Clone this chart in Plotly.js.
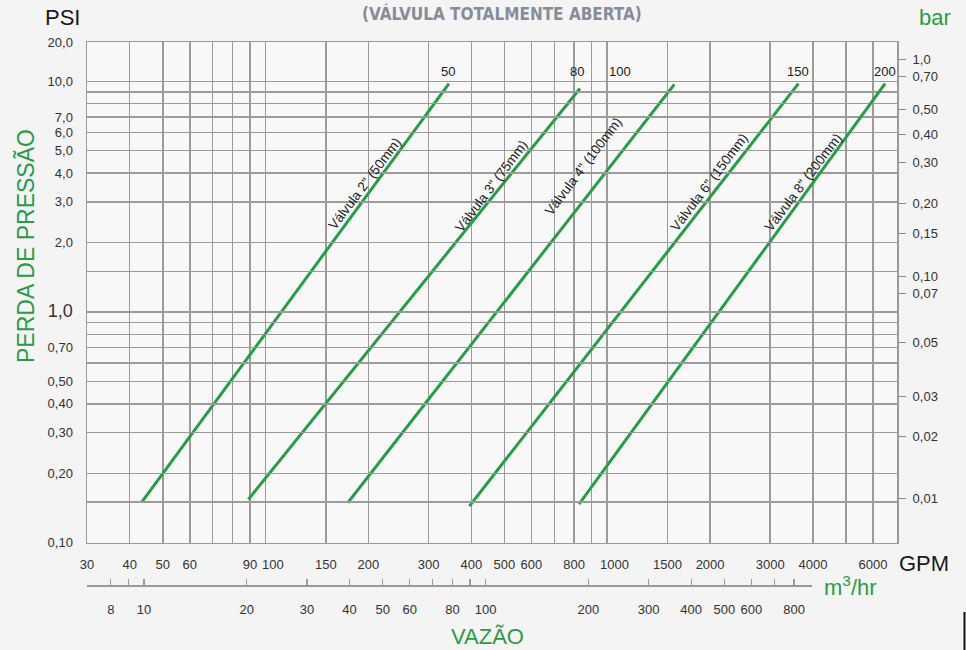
<!DOCTYPE html>
<html>
<head>
<meta charset="utf-8">
<script src="https://cdn.plot.ly/plotly-3.0.1.min.js"></script>
<style>html,body{margin:0;padding:0;background:#f4f4f4;}#chart{width:966px;height:650px;}</style>
</head>
<body>
<div id="chart"></div>
<script>
// ---- data ----
const valves = ['Válvula 2" (50mm)', 'Válvula 3" (75mm)', 'Válvula 4" (100mm)', 'Válvula 6" (150mm)', 'Válvula 8" (200mm)'];
const flowStartGPM = [43.4, 89, 174, 395, 827];
const flowEndGPM = [344, 832, 1572, 3627, 6505];
const lossStartPSI = [0.150, 0.154, 0.149, 0.144, 0.147];
const lossEndPSI = [9.77, 9.30, 9.70, 9.77, 9.77];
const sizeLabels = ['50', '80', '100', '150', '200'];
const sizeLabelGPM = [343, 813, 1090, 3615, 6505];

const gpmTicks = [30,40,50,60,70,80,90,100,150,200,300,400,500,600,700,800,900,1000,1500,2000,3000,4000,5000,6000];
const gpmLabels = ['30','40','50','60','','','90','\u00a0\u00a0\u00a0\u00a0100','150','200','300','400','500','600','','800','','\u00a0\u00a0\u00a0\u00a01000','1500','2000','3000','4000','','6000'];
const psiTicks = [14.8,10,9,8,7,6,5,4,3,2,1.5,1,0.9,0.8,0.7,0.6,0.5,0.4,0.3,0.2,0.15,0.1];
const psiLabels = ['20,0','10,0','','','7,0','6,0','5,0','4,0','3,0','2,0','','<span style="font-size:18px">1,0</span>','','','0,70','','0,50','0,40','0,30','0,20','','0,10'];
const barLabels = ['1,0','0,70','0,50','0,40','0,30','0,20','0,15','0,10','0,07','0,05','0,03','0,02','0,01'];
const barLabelAtPSI = [12.46,10.51,7.54,5.876,4.445,2.952,2.188,1.43,1.203,0.735,0.4287,0.2877,0.1557];
const m3Ticks = [8,9,10,20,30,40,50,60,70,80,90,100,200,300,400,500,600,700,800,900];
const m3Labels = ['8','','10','20','30','40','50','60','','80','','100','200','300','400','500','600','','800',''];
const GPM_PER_M3H = 4.4029;

// ---- layout geometry ----
const W = 966, H = 650, ML = 87, MR = 69, MT = 42, MB = 65;
const PW = W - ML - MR, PH = H - MT - MB;
const px = v => (v - ML) / PW;
const py = v => (H - MB - v) / PH;
const plotBottom = 542.7;
const yDom0 = (H - MB - plotBottom) / PH;

const gridC = '#9b9b9b';
const green = '#2a9b47';
const font = 'Liberation Sans, Arial, Helvetica, sans-serif';

const xRange = [Math.log10(30), Math.log10(7050)];
const yRange = [-1, Math.log10(14.8)];
const pxPerDec = PW / (xRange[1] - xRange[0]);
const m3Dom1 = px(812);
const m3Start = Math.log10(30 / GPM_PER_M3H);
const m3End = m3Start + (m3Dom1 * PW) / pxPerDec;

const traces = valves.map((name, i) => ({
  x: [flowStartGPM[i], flowEndGPM[i]],
  y: [lossStartPSI[i], lossEndPSI[i]],
  mode: 'lines', name: name,
  line: {color: green, width: 3},
  hoverinfo: 'skip', showlegend: false
}));
traces.push({x: [100], y: [1], yaxis: 'y2', mode: 'markers', marker: {opacity: 0}, hoverinfo: 'skip', showlegend: false});
traces.push({x: [50], y: [1], xaxis: 'x2', mode: 'markers', marker: {opacity: 0}, hoverinfo: 'skip', showlegend: false});

const labelGPM = [195, 457, 849, 1986, 3742];
const labelPSI = [3.62, 3.51, 4.29, 3.65, 3.65];

const annotations = [];
valves.forEach((name, i) => {
  annotations.push({x: Math.log10(labelGPM[i]), y: Math.log10(labelPSI[i]), xref: 'x', yref: 'y',
    text: name, showarrow: false, textangle: -53, font: {family: font, size: 13.5, color: '#222'}});
});
sizeLabels.forEach((t, i) => {
  annotations.push({x: Math.log10(sizeLabelGPM[i]), y: Math.log10(11.05), xref: 'x', yref: 'y',
    text: t, showarrow: false, font: {family: font, size: 13, color: '#222'}});
});
const paperText = (text, x, y, size, color, extra) => Object.assign({
  x: px(x), y: py(y), xref: 'paper', yref: 'paper', text: text, showarrow: false,
  xanchor: 'center', yanchor: 'middle', font: {family: font, size: size, color: color}}, extra || {});
annotations.push(paperText('PSI', 62, 18, 22, '#1a1a1a'));
annotations.push(paperText('bar', 935, 18, 22, green));
annotations.push(paperText('(VÁLVULA TOTALMENTE ABERTA)', 502, 13, 17, '#878c98',
  {font: {family: 'Liberation Sans Narrow, DejaVu Sans Condensed, Arial Narrow, sans-serif', size: 17, color: '#878c98', weight: 'bold'}}));
annotations.push(paperText('PERDA DE PRESSÃO', 26, 246, 23, green, {textangle: -90}));
annotations.push(paperText('GPM', 924, 563, 22, '#1a1a1a'));
annotations.push(paperText('m<sup>3</sup>/hr', 850, 586, 22, green));
annotations.push(paperText('VAZÃO', 487, 636, 22, green));

const layout = {
  width: W, height: H,
  margin: {l: ML, r: MR, t: MT, b: MB, pad: 0},
  paper_bgcolor: '#f4f4f4',
  plot_bgcolor: 'rgba(0,0,0,0)',
  showlegend: false,
  xaxis: {type: 'log', range: xRange, tickmode: 'array', tickvals: gpmTicks, ticktext: gpmLabels, tickangle: 0,
    showgrid: true, gridcolor: gridC, gridwidth: 1.5, showline: true, mirror: true, linecolor: gridC, linewidth: 1.5,
    ticks: '', ticklabelstandoff: 9, tickfont: {family: font, size: 13, color: '#333'}, zeroline: false, fixedrange: true, anchor: 'y'},
  yaxis: {type: 'log', range: yRange, domain: [yDom0, 1], tickmode: 'array', tickvals: psiTicks, ticktext: psiLabels,
    showgrid: true, gridcolor: gridC, gridwidth: 1.5, showline: true, mirror: true, linecolor: gridC, linewidth: 1.5,
    ticks: '', ticklabelstandoff: 10, tickfont: {family: font, size: 13, color: '#333'}, zeroline: false, fixedrange: true},
  yaxis2: {type: 'log', range: yRange, domain: [yDom0, 1], overlaying: 'y', side: 'right', tickmode: 'array',
    tickvals: barLabelAtPSI, ticktext: barLabels, showgrid: false, showline: false, zeroline: false,
    ticks: 'outside', ticklen: 8, tickwidth: 1.2, tickcolor: '#888', ticklabelstandoff: 4,
    tickfont: {family: font, size: 13, color: '#333'}, fixedrange: true},
  xaxis2: {type: 'log', range: [m3Start, m3End], domain: [0, m3Dom1], anchor: 'free', position: 0, tickmode: 'array',
    tickvals: m3Ticks, ticktext: m3Labels, tickangle: 0, showgrid: false, showline: true, linecolor: '#999', linewidth: 1.5, zeroline: false,
    ticks: 'inside', ticklen: 6, tickwidth: 1.2, tickcolor: '#999', ticklabelstandoff: 12,
    tickfont: {family: font, size: 13, color: '#333'}, fixedrange: true},
  shapes: [
    {type: 'rect', xref: 'paper', yref: 'paper', x0: 0, x1: 1, y0: yDom0, y1: 1, layer: 'below', line: {width: 0}, fillcolor: '#f8f8f8'},
    {type: 'line', xref: 'paper', yref: 'paper', x0: px(964.5), x1: px(964.5), y0: py(612), y1: py(650), line: {color: '#111', width: 2}}
  ],
  annotations: annotations
};

Plotly.newPlot('chart', traces, layout, {displayModeBar: false, staticPlot: true});
</script>
</body>
</html>
